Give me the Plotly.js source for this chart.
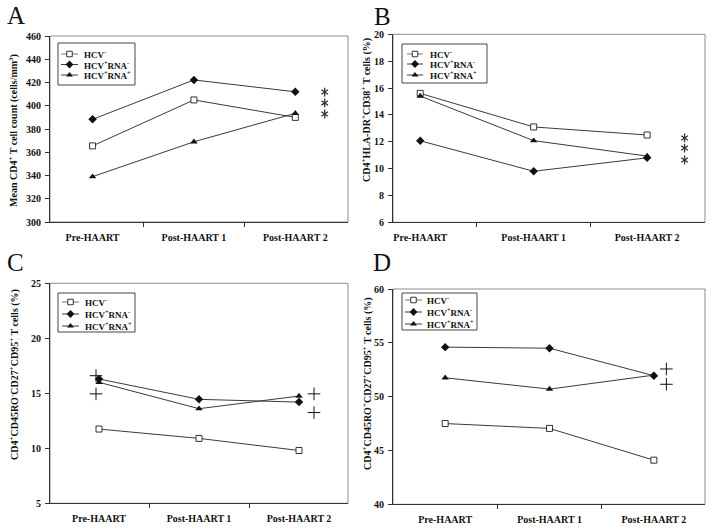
<!DOCTYPE html>
<html><head><meta charset="utf-8">
<script src="https://cdn.plot.ly/plotly-3.0.1.min.js"></script>
<style>html,body{margin:0;padding:0;background:#fff}#chart{width:714px;height:530px}</style>
</head><body><div id="chart"></div>
<script>
// ---------- data ----------
const categories = ['Pre-HAART', 'Post-HAART 1', 'Post-HAART 2'];
const catIndex = [0, 1, 2];
const seriesNames = ['HCV<sup>-</sup>', 'HCV<sup>+</sup>RNA<sup>-</sup>', 'HCV<sup>+</sup>RNA<sup>+</sup>'];

const panelA_hcvNeg = [365.5, 405, 390];
const panelA_rnaNeg = [388.3, 422.2, 412];
const panelA_rnaPos = [339, 369, 393.5];

const panelB_hcvNeg = [15.6, 13.1, 12.5];
const panelB_rnaNeg = [12.07, 9.8, 10.8];
const panelB_rnaPos = [15.4, 12.08, 10.93];

const panelC_hcvNeg = [11.75, 10.9, 9.8];
const panelC_rnaNeg = [16.3, 14.45, 14.2];
const panelC_rnaPos = [16.0, 13.6, 14.75];

const panelD_hcvNeg = [47.5, 47.05, 44.1];
const panelD_rnaNeg = [54.6, 54.5, 51.95];
const panelD_rnaPos = [51.75, 50.7, 52.0];

// significance marks
const panelA_starX = [2.29, 2.29, 2.29];
const panelA_starY = [411.8, 402.4, 392.9];
const panelB_starX = [2.33, 2.33, 2.33];
const panelB_starY = [12.28, 11.53, 10.64];
const panelC_plusX = [-0.03, -0.03, 2.15, 2.15];
const panelC_plusY = [16.6, 14.95, 14.95, 13.25];
const panelD_plusX = [2.12, 2.12];
const panelD_plusY = [52.57, 51.15];

// ---------- styles ----------
const W = 714, H = 530;
const serif = 'Liberation Serif, Times New Roman, serif';
const lineCol = '#3a3a3a';
const seriesStyle = [
  {symbol: 'square', size: 6, color: '#ffffff', lc: '#333', lw: 1},
  {symbol: 'diamond', size: 6.5, color: '#111111', lc: '#111', lw: 0},
  {symbol: 'triangle-up', size: 6.5, color: '#111111', lc: '#111', lw: 0}
];

const panels = [
  {ax: '', series: [panelA_hcvNeg, panelA_rnaNeg, panelA_rnaPos], xdom: [50, 348], ydom: [36, 222], xr: [-0.42, 2.52], yr: [300, 460], dtick: 20,
   legend: {box: [58, 135, 43, 85], rows: [54, 64.5, 75], line: [61, 78], sym: 69.5, text: 82},
   letter: ['A', 16, 16], title: ['Mean CD4<sup>+</sup> T cell count (cells/mm<sup>3</sup>)', 13, 131]},
  {ax: '2', series: [panelB_hcvNeg, panelB_rnaNeg, panelB_rnaPos], xdom: [393, 705], ydom: [34.3, 222.3], xr: [-0.24, 2.51], yr: [6, 20], dtick: 2,
   legend: {box: [402, 487, 44, 83], rows: [54, 64, 75], line: [407, 423], sym: 415, text: 428},
   letter: ['B', 382, 17], title: ['CD4<sup>+</sup>HLA-DR<sup>+</sup>CD38<sup>+</sup> T cells (%)', 367, 110]},
  {ax: '3', series: [panelC_hcvNeg, panelC_rnaNeg, panelC_rnaPos], xdom: [50, 348], ydom: [283.3, 503.3], xr: [-0.49, 2.49], yr: [5, 25], dtick: 5,
   legend: {box: [58, 135, 293, 332], rows: [302, 314, 326], line: [62, 79], sym: 70.5, text: 83},
   letter: ['C', 15, 262], title: ['CD4<sup>+</sup>CD45RO<sup>-</sup>CD27<sup>+</sup>CD95<sup>+</sup> T cells (%)', 14, 375]},
  {ax: '4', series: [panelD_hcvNeg, panelD_rnaNeg, panelD_rnaPos], xdom: [393, 705], ydom: [289, 504.3], xr: [-0.5, 2.49], yr: [40, 60], dtick: 5,
   legend: {box: [402, 477, 293, 330], rows: [300, 312, 324], line: [405, 422], sym: 413.5, text: 425},
   letter: ['D', 382, 262], title: ['CD4<sup>+</sup>CD45RO<sup>+</sup>CD27<sup>+</sup>CD95<sup>+</sup> T cells (%)', 367, 383]}
];

const traces = [];
const layout = {
  width: W, height: H, margin: {l: 0, r: 0, t: 0, b: 0},
  paper_bgcolor: '#ffffff', plot_bgcolor: 'rgba(0,0,0,0)',
  showlegend: false, hovermode: false,
  font: {family: serif, color: '#111', size: 10},
  shapes: [], annotations: []
};

panels.forEach(p => {
  const xa = 'x' + p.ax, ya = 'y' + p.ax;
  const xk = 'xaxis' + p.ax, yk = 'yaxis' + p.ax;
  layout[xk] = {
    domain: [p.xdom[0] / W, p.xdom[1] / W], range: p.xr, anchor: ya,
    tickmode: 'array', tickvals: catIndex, ticktext: categories, ticks: '',
    showline: true, linecolor: '#333', linewidth: 1, showgrid: false, zeroline: false,
    tickfont: {family: serif, size: 10, color: '#111', weight: 'bold'}, ticklabelstandoff: 6,
    minor: {tickmode: 'array', tickvals: [0.5, 1.5], ticks: 'outside', ticklen: 4, tickcolor: '#333', tickwidth: 1, showgrid: false},
    fixedrange: true
  };
  layout[yk] = {
    domain: [1 - p.ydom[1] / H, 1 - p.ydom[0] / H], range: p.yr, anchor: xa,
    dtick: p.dtick, tick0: p.yr[0], ticks: 'outside', ticklen: 4, tickcolor: '#333', tickwidth: 1,
    showline: true, linecolor: '#333', linewidth: 1, showgrid: false, zeroline: false,
    tickfont: {family: serif, size: 10, color: '#111', weight: 'bold'}, ticklabelstandoff: 2,
    fixedrange: true
  };
  // light frame on top/right
  layout.shapes.push({type: 'rect', xref: xa + ' domain', yref: ya + ' domain', x0: 0, x1: 1, y0: 0, y1: 1,
    line: {color: '#8c8c8c', width: 1}, layer: 'below'});

  p.series.forEach((vals, i) => {
    const s = seriesStyle[i];
    traces.push({
      x: catIndex, y: vals, xaxis: xa, yaxis: ya, type: 'scatter', mode: 'lines+markers',
      name: seriesNames[i], line: {color: lineCol, width: 1},
      marker: {symbol: s.symbol, size: s.size, color: s.color, line: {color: s.lc, width: s.lw}}
    });
  });

  // legend (drawn on a full-page overlay axis in pixel units)
  const L = p.legend;
  layout.shapes.push({type: 'rect', xref: 'x5', yref: 'y5', x0: L.box[0], x1: L.box[1], y0: L.box[2], y1: L.box[3],
    line: {color: '#444', width: 1}, fillcolor: 'rgba(0,0,0,0)'});
  L.rows.forEach((ry, i) => {
    const s = seriesStyle[i];
    traces.push({x: [L.line[0], L.line[1]], y: [ry, ry], xaxis: 'x5', yaxis: 'y5', mode: 'lines',
      line: {color: i === 0 ? '#777' : lineCol, width: 1}});
    traces.push({x: [L.sym], y: [ry], xaxis: 'x5', yaxis: 'y5', mode: 'markers',
      marker: {symbol: s.symbol, size: s.size - 0.5, color: s.color, line: {color: s.lc, width: s.lw}}});
    layout.annotations.push({xref: 'x5', yref: 'y5', x: L.text, y: ry, xanchor: 'left', yanchor: 'middle',
      text: seriesNames[i], showarrow: false, font: {family: serif, size: 9, color: '#111', weight: 'bold'}});
  });

  layout.annotations.push({xref: 'paper', yref: 'paper', x: p.letter[1] / W, y: 1 - p.letter[2] / H,
    xanchor: 'center', yanchor: 'middle', text: p.letter[0], showarrow: false,
    font: {family: serif, size: 25, color: '#111'}});
  layout.annotations.push({xref: 'paper', yref: 'paper', x: p.title[1] / W, y: 1 - p.title[2] / H,
    xanchor: 'center', yanchor: 'middle', textangle: -90, text: p.title[0], showarrow: false,
    font: {family: serif, size: 10, color: '#111', weight: 'bold'}});
});

layout.xaxis5 = {domain: [0, 1], range: [0, W], visible: false, fixedrange: true, anchor: 'y5'};
layout.yaxis5 = {domain: [0, 1], range: [H, 0], visible: false, fixedrange: true, anchor: 'x5'};

// significance asterisks (6-armed: y-up + y-down)
[['', panelA_starX, panelA_starY], ['2', panelB_starX, panelB_starY]].forEach(([a, xs, ys]) => {
  ['y-up-open', 'y-down-open'].forEach(sym => {
    traces.push({x: xs, y: ys, xaxis: 'x' + a, yaxis: 'y' + a, mode: 'markers',
      marker: {symbol: sym, size: 5.5, color: '#333', line: {color: '#333', width: 1.3}}});
  });
});
// plus signs
[['3', panelC_plusX, panelC_plusY], ['4', panelD_plusX, panelD_plusY]].forEach(([a, xs, ys]) => {
  traces.push({x: xs, y: ys, xaxis: 'x' + a, yaxis: 'y' + a, mode: 'markers',
    marker: {symbol: 'cross-thin-open', size: 9, color: '#111', line: {color: '#111', width: 1}}});
});

Plotly.newPlot('chart', traces, layout, {staticPlot: true, displayModeBar: false});
</script></body></html>
